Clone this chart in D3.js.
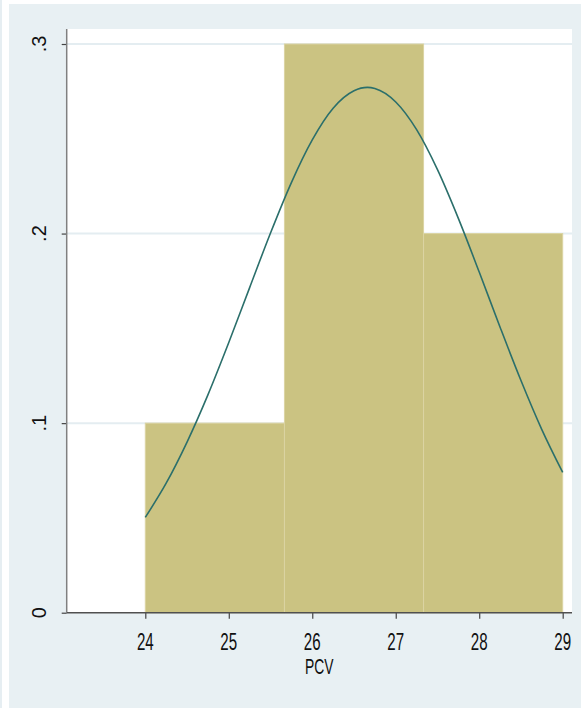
<!DOCTYPE html>
<html>
<head>
<meta charset="utf-8">
<script src="https://cdn.jsdelivr.net/npm/d3@7"></script>
<style>
  body { margin: 0; background: #ffffff; }
  svg { display: block; }
</style>
</head>
<body>
<div id="chart"></div>
<script>
// histogram of PCV with normal density overlay
const binEdges = [24, 25.6667, 27.3333, 29];
const binDensity = [0.1, 0.3, 0.2];

const xTicks = [24, 25, 26, 27, 28, 29];
const yTicks = [0, 0.1, 0.2, 0.3];
const yTickLabels = ["0", ".1", ".2", ".3"];
const xTitle = "PCV";

// normal curve
const curveX = [24, 24.25, 24.5, 24.75, 25, 25.25, 25.5, 25.75, 26, 26.25, 26.5, 26.66,
                26.75, 27, 27.25, 27.5, 27.75, 28, 28.25, 28.5, 28.75, 29];
const curveY = [0.0503, 0.0683, 0.0900, 0.1149, 0.1425, 0.1715, 0.2003, 0.2269, 0.2494, 0.2661, 0.2753, 0.2771,
                0.2765, 0.2694, 0.2548, 0.2337, 0.2080, 0.1797, 0.1506, 0.1225, 0.0966, 0.0740];

const width = 581, height = 708;
const plot = {left: 66.7, right: 572, top: 29, bottom: 612.7};

const svg = d3.select("#chart").append("svg")
  .attr("width", width).attr("height", height)
  .style("font-family", "'Liberation Sans', Arial, sans-serif");

// outer background
svg.append("rect").attr("width", width).attr("height", height).attr("fill", "#ffffff");
svg.append("rect").attr("x", 0).attr("y", 0).attr("width", 2).attr("height", height).attr("fill", "#e6eef2");
svg.append("rect").attr("x", 9).attr("y", 4).attr("width", width - 9).attr("height", height - 4).attr("fill", "#e8f0f3");

const x = d3.scaleLinear().domain([24, 29]).range([145.3, 562.7]);
const y = d3.scaleLinear().domain([0, 0.3]).range([plot.bottom, 44]);

// plot region
svg.append("rect")
  .attr("x", plot.left).attr("y", plot.top)
  .attr("width", plot.right - plot.left).attr("height", plot.bottom - plot.top)
  .attr("fill", "#ffffff");

// gridlines
svg.append("g")
  .selectAll("line")
  .data(yTicks.filter(d => d > 0))
  .join("line")
    .attr("x1", plot.left).attr("x2", plot.right)
    .attr("y1", d => y(d)).attr("y2", d => y(d))
    .attr("stroke", "#e4edf1")
    .attr("stroke-width", 2);

// bars
const bins = binDensity.map((d, i) => ({x0: binEdges[i], x1: binEdges[i + 1], v: d}));
svg.append("g")
  .selectAll("rect")
  .data(bins)
  .join("rect")
    .attr("x", d => x(d.x0))
    .attr("y", d => y(d.v))
    .attr("width", d => x(d.x1) - x(d.x0))
    .attr("height", d => y(0) - y(d.v))
    .attr("fill", "#cbc382")
    .attr("stroke", "#dbd4a3")
    .attr("stroke-width", 1);

// normal density
const line = d3.line()
  .x(d => x(d[0]))
  .y(d => y(d[1]))
  .curve(d3.curveMonotoneX);

svg.append("path")
  .datum(curveX.map((d, i) => [d, curveY[i]]))
  .attr("fill", "none")
  .attr("stroke", "#2b6f6b")
  .attr("stroke-width", 1.6)
  .attr("d", line);

// y axis
const yAxis = svg.append("g")
  .attr("transform", `translate(${plot.left},0)`)
  .call(d3.axisLeft(y).tickValues(yTicks).tickSize(5).tickFormat(""))
  .call(g => g.select(".domain").remove())
  .call(g => g.selectAll(".tick line").attr("stroke", "#444").attr("stroke-width", 1.2));

svg.append("line")
  .attr("x1", plot.left).attr("x2", plot.left)
  .attr("y1", plot.top).attr("y2", plot.bottom)
  .attr("stroke", "#808080").attr("stroke-width", 1.5);

svg.append("g")
  .selectAll("text")
  .data(yTicks)
  .join("text")
    .attr("transform", d => `translate(46,${y(d)}) rotate(-90)`)
    .attr("text-anchor", "middle")
    .style("font-size", "20px")
    .attr("fill", "#111")
    .text((d, i) => yTickLabels[i]);

// x axis
svg.append("g")
  .attr("transform", `translate(0,${plot.bottom})`)
  .call(d3.axisBottom(x).tickValues(xTicks).tickSize(6).tickFormat(""))
  .call(g => g.select(".domain").remove())
  .call(g => g.selectAll(".tick line").attr("stroke", "#444").attr("stroke-width", 1.2));

svg.append("line")
  .attr("x1", plot.left).attr("x2", plot.right)
  .attr("y1", plot.bottom).attr("y2", plot.bottom)
  .attr("stroke", "#505050").attr("stroke-width", 1.5);

svg.append("g")
  .selectAll("text")
  .data(xTicks)
  .join("text")
    .attr("transform", d => `translate(${x(d)},650) scale(0.63,1)`)
    .attr("text-anchor", "middle")
    .style("font-size", "24px")
    .attr("fill", "#111")
    .text(d => d);

svg.append("text")
  .attr("transform", `translate(${(plot.left + plot.right) / 2},673.5) scale(0.63,1)`)
  .attr("text-anchor", "middle")
  .style("font-size", "22px")
  .attr("fill", "#111")
  .text(xTitle);
</script>
</body>
</html>
